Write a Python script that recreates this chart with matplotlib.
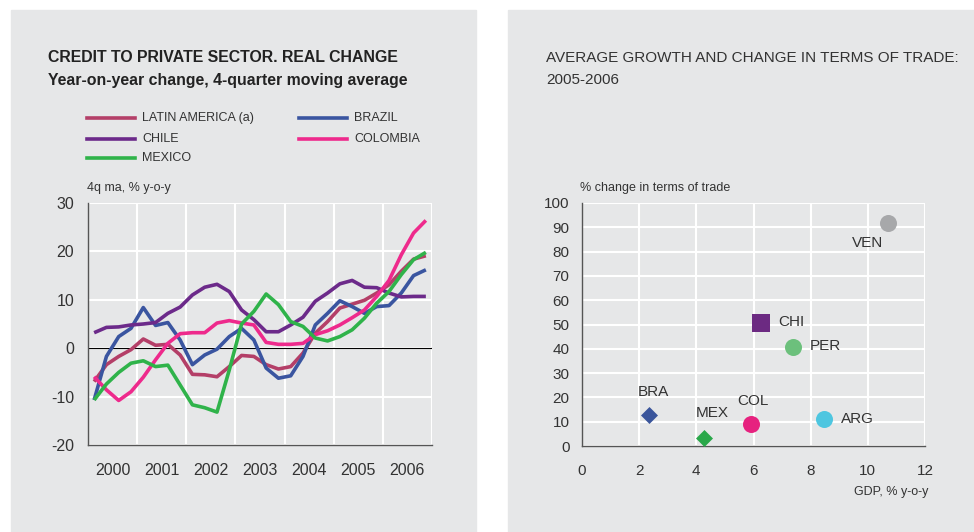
import numpy as np
import matplotlib.pyplot as plt
from matplotlib.patches import Rectangle

plt.rcParams["font.family"] = ["Liberation Sans", "DejaVu Sans"]
plt.rcParams["axes.unicode_minus"] = False

# quarterly data, 2000Q1 .. 2006Q4
QUARTERS = np.arange(28)
LATAM = [-6.9, -3.4, -1.7, -0.3, 1.9, 0.6, 0.8, -1.4, -5.4, -5.5, -5.9, -3.8, -1.5, -1.7,
         -3.4, -4.3, -3.8, -1.0, 3.1, 5.5, 8.3, 9.1, 9.9, 11.4, 13.1, 15.9, 18.4, 19.1]
BRAZIL = [-10.7, -1.7, 2.4, 4.1, 8.4, 4.7, 5.3, 1.7, -3.4, -1.4, -0.2, 2.4, 4.1, 1.7,
          -4.1, -6.2, -5.7, -1.7, 4.8, 7.2, 9.8, 8.6, 7.2, 8.6, 8.8, 11.4, 15.0, 16.2]
CHILE = [3.2, 4.3, 4.4, 4.8, 5.0, 5.3, 7.2, 8.5, 11.0, 12.6, 13.2, 11.7, 7.9, 5.9,
         3.4, 3.4, 4.8, 6.4, 9.7, 11.4, 13.3, 14.0, 12.6, 12.5, 11.4, 10.6, 10.7, 10.7]
COLOMBIA = [-5.9, -8.6, -10.8, -9.0, -6.0, -2.4, 1.0, 3.0, 3.2, 3.2, 5.2, 5.7, 5.2, 4.8,
            1.2, 0.8, 0.8, 1.0, 2.8, 3.6, 4.8, 6.3, 7.9, 10.7, 14.0, 19.3, 23.8, 26.4]
MEXICO = [-10.7, -7.4, -5.0, -3.1, -2.6, -3.8, -3.5, -7.6, -11.7, -12.3, -13.2, -4.5, 5.0, 7.6,
          11.2, 9.0, 5.5, 4.5, 2.1, 1.5, 2.4, 3.8, 6.2, 9.3, 11.7, 15.2, 18.3, 19.8]
YEARS = [2000, 2001, 2002, 2003, 2004, 2005, 2006]

# scatter: GDP growth vs terms of trade change
COUNTRIES = ["VEN", "CHI", "PER", "BRA", "MEX", "COL", "ARG"]
GDP = [10.7, 6.27, 7.37, 2.35, 4.27, 5.9, 8.45]
TOT = [91.8, 50.8, 40.8, 12.7, 3.15, 9.0, 11.0]

BG = "#e6e7e8"
TXT = "#333333"


def px_axes(fig, x0, y0, x1, y1, W=974, H=532):
    return fig.add_axes([x0 / W, 1 - y1 / H, (x1 - x0) / W, (y1 - y0) / H])


fig = plt.figure(figsize=(9.74, 5.32), dpi=100)
fig.patch.set_facecolor("white")
fig.patches.append(Rectangle((11 / 974, 0), 465 / 974, 1 - 10 / 532,
                             transform=fig.transFigure, color=BG, zorder=-10))
fig.patches.append(Rectangle((508 / 974, 0), 466 / 974, 1 - 10 / 532,
                             transform=fig.transFigure, color=BG, zorder=-10))

# ---------------- left chart ----------------
ax = px_axes(fig, 88, 203, 432, 445)
ax.set_facecolor(BG)
x = 2000 + (QUARTERS + 0.5) / 4
series = [
    ("LATIN AMERICA (a)", LATAM, "#b43f68"),
    ("BRAZIL", BRAZIL, "#3a55a0"),
    ("CHILE", CHILE, "#6c2a8a"),
    ("COLOMBIA", COLOMBIA, "#ee2a8c"),
    ("MEXICO", MEXICO, "#2fb34a"),
]
lines = {}
for name, vals, col in series:
    (ln,) = ax.plot(x, vals, color=col, lw=2.6, solid_capstyle="butt", zorder=3)
    lines[name] = ln
ax.axhline(0, color="black", lw=0.8, zorder=2)
ax.set_xlim(2000, 2007)
ax.set_ylim(-20, 30)
ax.set_yticks([-20, -10, 0, 10, 20, 30])
ax.set_xticks(range(2000, 2008))
ax.set_xticklabels([])
ax.set_xticks([y + 0.5 for y in YEARS], minor=True)
ax.set_xticklabels([str(y) for y in YEARS], minor=True)
ax.tick_params(axis="both", which="both", length=0, colors=TXT, labelsize=11.5)
ax.tick_params(axis="y", pad=10)
ax.tick_params(axis="x", which="minor", pad=13)
ax.grid(True, which="major", color="white", lw=1.5, zorder=0)
for s in ["top", "right"]:
    ax.spines[s].set_visible(False)
for s in ["left", "bottom"]:
    ax.spines[s].set_color("#555555")
    ax.spines[s].set_linewidth(1.0)
fig.text(87 / 974, 1 - 188 / 532, "4q ma, % y-o-y", fontsize=9, color=TXT, va="center")

fig.text(48 / 974, 1 - 58 / 532, "CREDIT TO PRIVATE SECTOR. REAL CHANGE",
         fontsize=11.4, fontweight="bold", color="#222222", va="center")
fig.text(48 / 974, 1 - 80 / 532, "Year-on-year change, 4-quarter moving average",
         fontsize=11.4, fontweight="bold", color="#222222", va="center")

# legend drawn by hand in two columns
leg_pos = [("LATIN AMERICA (a)", 87, 118), ("BRAZIL", 299, 118),
           ("CHILE", 87, 139), ("COLOMBIA", 299, 139), ("MEXICO", 87, 158)]
for name, lx, ly in leg_pos:
    col = lines[name].get_color()
    fig.add_artist(plt.Line2D([lx / 974, (lx + 48) / 974], [1 - ly / 532, 1 - ly / 532],
                              color=col, lw=2.6, transform=fig.transFigure))
    fig.text((lx + 55) / 974, 1 - ly / 532, name, fontsize=9, color=TXT, va="center")

# ---------------- right chart ----------------
ax2 = px_axes(fig, 582, 203, 925, 446)
ax2.set_facecolor(BG)
styles = {
    "VEN": ("o", "#a7a8aa", 150),
    "CHI": ("s", "#6c2a82", 150),
    "PER": ("o", "#6cc07c", 150),
    "BRA": ("D", "#3a559b", 75),
    "MEX": ("D", "#2aa84a", 75),
    "COL": ("o", "#e6227f", 150),
    "ARG": ("o", "#4ec6e0", 150),
}
for c, gx, ty in zip(COUNTRIES, GDP, TOT):
    m, col, sz = styles[c]
    ax2.scatter(gx, ty, marker=m, color=col, s=sz, zorder=3, linewidths=0)

label_pos = {
    "VEN": (10.0, 83.5, "center"),
    "CHI": (6.88, 51, "left"),
    "PER": (7.98, 41, "left"),
    "BRA": (2.49, 22.2, "center"),
    "MEX": (4.56, 13.4, "center"),
    "COL": (5.98, 18.6, "center"),
    "ARG": (9.06, 11, "left"),
}
for c, (lx, ly, ha) in label_pos.items():
    ax2.text(lx, ly, c, fontsize=11, color=TXT, ha=ha, va="center")

ax2.set_xlim(0, 12)
ax2.set_ylim(0, 100)
ax2.set_xticks(range(0, 13, 2))
ax2.set_yticks(range(0, 101, 10))
ax2.tick_params(axis="both", length=0, colors=TXT, labelsize=11)
ax2.tick_params(axis="y", pad=9)
ax2.tick_params(axis="x", pad=13)
ax2.grid(True, color="white", lw=1.5, zorder=0)
for s in ["top", "right"]:
    ax2.spines[s].set_visible(False)
for s in ["left", "bottom"]:
    ax2.spines[s].set_color("#555555")
    ax2.spines[s].set_linewidth(1.0)
fig.text(580 / 974, 1 - 188 / 532, "% change in terms of trade", fontsize=9, color=TXT, va="center")
fig.text(928 / 974, 1 - 492 / 532, "GDP, % y-o-y", fontsize=9, color=TXT, va="center", ha="right")

fig.text(546 / 974, 1 - 58 / 532, "AVERAGE GROWTH AND CHANGE IN TERMS OF TRADE:",
         fontsize=11.0, color=TXT, va="center")
fig.text(546 / 974, 1 - 80 / 532, "2005-2006", fontsize=11.0, color=TXT, va="center")

fig.savefig("out.png", dpi=100, facecolor=fig.get_facecolor())
